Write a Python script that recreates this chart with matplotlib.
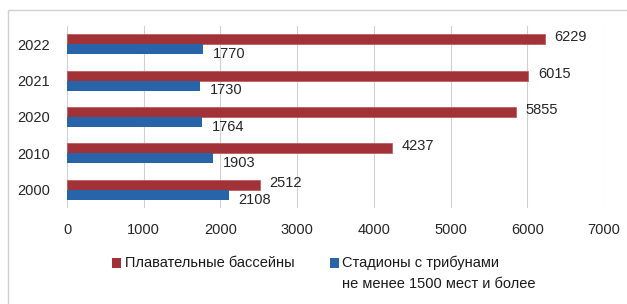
import matplotlib
matplotlib.use("Agg")
import matplotlib.pyplot as plt
from matplotlib.patches import Rectangle
import numpy as np

years = ["2000", "2010", "2020", "2021", "2022"]
pools = [2512, 4237, 5855, 6015, 6229]
stadiums = [2108, 1903, 1764, 1730, 1770]
series_names = ["Плавательные бассейны", "Стадионы с трибунами\nне менее 1500 мест и более"]
x_ticks = [0, 1000, 2000, 3000, 4000, 5000, 6000, 7000]

red = "#A03238"
blue = "#2764AA"
txt = "#262626"
fs = 10.5

plt.rcParams['font.family'] = ['Liberation Sans', 'DejaVu Sans']

fig = plt.figure(figsize=(6.27, 3.04), dpi=100)
fig.patch.set_facecolor("white")
fig.patches.append(Rectangle((8/627, -0.05), 1.0, 1 - 10/304 + 0.05, transform=fig.transFigure,
                             fill=False, edgecolor="#D0D0D0", linewidth=1.0))

ax = fig.add_axes([67/627, 1 - 208/304, (604 - 67)/627, (208 - 26)/304])
y = np.arange(len(years))
h = 0.275
ax.barh(y + h/2, pools, height=h, color=red, edgecolor="#C05058", linewidth=0.5, zorder=3)
ax.barh(y - h/2, stadiums, height=h, color=blue, zorder=3)

for yi, v in zip(y, pools):
    ax.annotate(str(v), (v, yi + h/2), xytext=(7, 1.5), textcoords="offset points",
                va="center", ha="left", fontsize=fs, color=txt)
for yi, v in zip(y, stadiums):
    ax.annotate(str(v), (v, yi - h/2), xytext=(7, -3.5), textcoords="offset points",
                va="center", ha="left", fontsize=fs, color=txt)

ax.set_xlim(0, 7000)
ax.set_ylim(-0.5, len(years) - 0.5)
ax.set_xticks(x_ticks)
ax.set_xticklabels([str(t) for t in x_ticks], fontsize=fs, color=txt)
ax.set_yticks(y)
ax.set_yticklabels(years, fontsize=fs, color=txt)
ax.tick_params(axis="x", length=0, pad=11)
ax.tick_params(axis="y", length=0, pad=12)
ax.grid(axis="x", color="#D0D0D0", linewidth=0.8, zorder=0)
for s in ax.spines.values():
    s.set_visible(False)

# legend
fig.patches.append(Rectangle((112/627, 1 - 268/304), 9/627, 10/304, transform=fig.transFigure,
                             facecolor=red, edgecolor="none"))
fig.text(125/627, 1 - 263/304, series_names[0], fontsize=fs, color="#1a1a1a", va="center", ha="left")
fig.patches.append(Rectangle((330/627, 1 - 268/304), 9/627, 10/304, transform=fig.transFigure,
                             facecolor=blue, edgecolor="none"))
line1, line2 = series_names[1].split("\n")
fig.text(342/627, 1 - 263/304, line1, fontsize=fs, color="#1a1a1a", va="center", ha="left")
fig.text(342/627, 1 - 284/304, line2, fontsize=fs, color="#1a1a1a", va="center", ha="left")

fig.savefig("out.png", dpi=100)
